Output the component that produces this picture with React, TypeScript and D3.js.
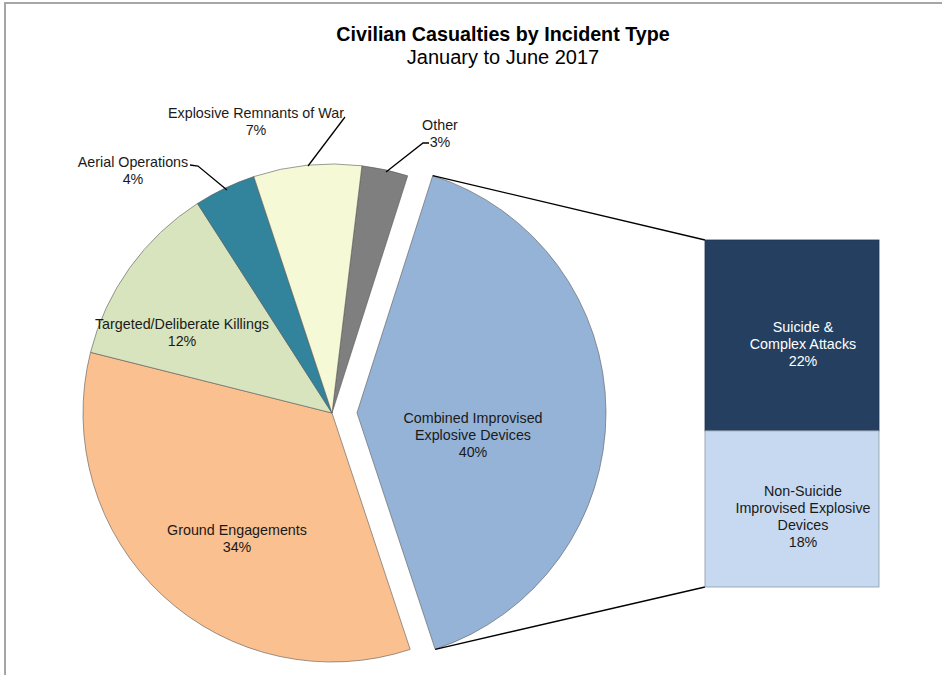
import React from "react";
import * as d3 from "d3";

// ---- Data ----
const categories = [
  "Other",
  "Combined Improvised Explosive Devices",
  "Ground Engagements",
  "Targeted/Deliberate Killings",
  "Aerial Operations",
  "Explosive Remnants of War",
];
const values = [3, 40, 34, 12, 4, 7];
const sliceColors = ["#7f7f7f", "#95b3d7", "#fac090", "#d7e4bd", "#31849b", "#f5f9d6"];

const subCategories = ["Suicide & Complex Attacks", "Non-Suicide Improvised Explosive Devices"];
const subValues = [22, 18];
const subColors = ["#243f60", "#c6d9f1"];

// label line texts
const sliceLabelLines = [
  ["Other", "3%"],
  ["Combined Improvised", "Explosive Devices", "40%"],
  ["Ground Engagements", "34%"],
  ["Targeted/Deliberate Killings", "12%"],
  ["Aerial Operations", "4%"],
  ["Explosive Remnants of War", "7%"],
];
const subLabelLines = [
  ["Suicide &", "Complex Attacks", "22%"],
  ["Non-Suicide", "Improvised Explosive", "Devices", "18%"],
];

// ---- Layout ----
const W = 942;
const H = 675;
const cx = 332;
const cy = 413;
const R = 249;
const explodeIndex = 1;
const explodeOffset = 25;
const startDeg = 6.9;
// label anchor (center x, first baseline y) relative to pie centre
const labelOffsets: [number, number][] = [
  [108, -283],
  [141, 10],
  [-95, 122],
  [-150, -84],
  [-199, -246],
  [-76, -295],
];
const lineGap = 17;
// leader polylines for outside labels: [labelIndex, points relative to centre]
const leaders: { i: number; pts: [number, number][] }[] = [
  { i: 0, pts: [[97, -270], [91, -270], [54, -241]] },
  { i: 5, pts: [[13, -296], [-24, -247]] },
  { i: 4, pts: [[-142, -248], [-134, -247], [-105, -223]] },
];
const bar = { x: 705, w: 174, top: 240, bottom: 587 };
const subLabelX = 803;
const subLabelY = [332, 496];

const FONT = "'Liberation Sans', Arial, sans-serif";
const LABEL_SIZE = 14.3;

export default function App() {
  const pie = d3
    .pie<number>()
    .sort(null)
    .value((d) => d)
    .startAngle((startDeg * Math.PI) / 180)
    .endAngle((startDeg * Math.PI) / 180 + 2 * Math.PI);
  const arcs = pie(values);
  const arcGen = d3.arc<d3.PieArcDatum<number>>().innerRadius(0).outerRadius(R);

  const ex = arcs[explodeIndex];
  const mid = (ex.startAngle + ex.endAngle) / 2;
  const exDx = Math.sin(mid) * explodeOffset;
  const exDy = -Math.cos(mid) * explodeOffset;

  const pt = (a: number, r: number, dx = 0, dy = 0) => [
    cx + dx + Math.sin(a) * r,
    cy + dy - Math.cos(a) * r,
  ];
  const exTop = pt(ex.startAngle, R, exDx, exDy);
  const exBot = pt(ex.endAngle, R, exDx, exDy);

  const total = d3.sum(subValues);
  const yScale = d3.scaleLinear().domain([0, total]).range([bar.top, bar.bottom]);
  const stacked = d3.cumsum([0, ...subValues]);

  return (
    <svg
      width={W}
      height={H}
      style={{ position: "absolute", left: 0, top: 0, background: "#fff" }}
      fontFamily={FONT}
    >
      <rect x={5} y={3} width={W + 20} height={H + 20} fill="#fff" stroke="#a6a6a6" strokeWidth={2} />
      <text x={503} y={41} textAnchor="middle" fontSize={19.7} fontWeight="bold" fill="#000">
        Civilian Casualties by Incident Type
      </text>
      <text x={503} y={64} textAnchor="middle" fontSize={20} fill="#000">
        January to June 2017
      </text>

      {arcs.map((a, i) => {
        const dx = i === explodeIndex ? exDx : 0;
        const dy = i === explodeIndex ? exDy : 0;
        return (
          <path
            key={categories[i]}
            d={arcGen(a) || ""}
            transform={`translate(${cx + dx},${cy + dy})`}
            fill={sliceColors[i]}
            stroke="#595959"
            strokeWidth={0.6}
          />
        );
      })}

      {/* connector lines */}
      <line x1={exTop[0]} y1={exTop[1]} x2={bar.x} y2={bar.top} stroke="#000" strokeWidth={1.3} />
      <line x1={exBot[0]} y1={exBot[1]} x2={bar.x} y2={bar.bottom} stroke="#000" strokeWidth={1.3} />

      {/* stacked bar */}
      {subValues.map((v, i) => (
        <rect
          key={subCategories[i]}
          x={bar.x}
          y={yScale(stacked[i])}
          width={bar.w}
          height={yScale(stacked[i + 1]) - yScale(stacked[i])}
          fill={subColors[i]}
          stroke={i === 0 ? "#1f3550" : "#8c98a6"}
          strokeWidth={0.8}
        />
      ))}

      {/* leaders */}
      {leaders.map((l) => (
        <polyline
          key={l.i}
          points={l.pts.map(([x, y]) => `${cx + x},${cy + y}`).join(" ")}
          fill="none"
          stroke="#000"
          strokeWidth={1.3}
        />
      ))}

      {/* slice labels */}
      {sliceLabelLines.map((lines, i) => (
        <text key={i} textAnchor="middle" fontSize={LABEL_SIZE} fill="#1a1a1a">
          {lines.map((t, j) => (
            <tspan key={j} x={cx + labelOffsets[i][0]} y={cy + labelOffsets[i][1] + j * lineGap}>
              {t}
            </tspan>
          ))}
        </text>
      ))}

      {/* bar labels */}
      {subLabelLines.map((lines, i) => (
        <text key={i} textAnchor="middle" fontSize={LABEL_SIZE} fill={i === 0 ? "#fff" : "#1a1a1a"}>
          {lines.map((t, j) => (
            <tspan key={j} x={subLabelX} y={subLabelY[i] + j * lineGap}>
              {t}
            </tspan>
          ))}
        </text>
      ))}
    </svg>
  );
}
